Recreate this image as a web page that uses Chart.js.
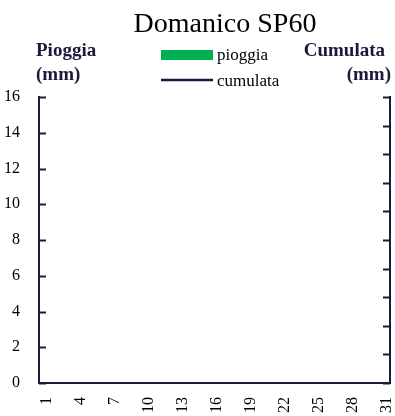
<!DOCTYPE html>
<html>
<head>
<meta charset="utf-8">
<script src="https://cdn.jsdelivr.net/npm/chart.js@4.4.1/dist/chart.umd.min.js"></script>
<style>
  html, body { margin: 0; padding: 0; background: #fff; }
  #wrap { width: 395px; height: 416px; position: relative; }
</style>
</head>
<body>
<div id="wrap"><canvas id="rainChart" width="395" height="416"></canvas></div>
<script>
// giorni del mese
const days = ['1','2','3','4','5','6','7','8','9','10','11','12','13','14','15','16',
  '17','18','19','20','21','22','23','24','25','26','27','28','29','30','31'];
// pioggia giornaliera (mm) - nessun dato registrato
const pioggia = [0,0,0,0,0,0,0,0,0,0,0,0,0,0,0,0,0,0,0,0,0,0,0,0,0,0,0,0,0,0,0];
// cumulata (mm)
const cumulata = [0,0,0,0,0,0,0,0,0,0,0,0,0,0,0,0,0,0,0,0,0,0,0,0,0,0,0,0,0,0,0];
const leftTicks = [0, 2, 4, 6, 8, 10, 12, 14, 16];
const rightRange = [0, 1];

const NAVY = '#1c1a3c';
const GREEN = '#00b050';
const SERIF = '"Liberation Serif", "Times New Roman", serif';

// scritte fuori dal grafico: titolo, titoli assi, legenda
const labelsPlugin = {
  id: 'labelsPlugin',
  afterDraw(chart) {
    const ctx = chart.ctx;
    ctx.save();
    ctx.fillStyle = '#000';
    ctx.textBaseline = 'alphabetic';
    ctx.font = '28px ' + SERIF;
    ctx.textAlign = 'center';
    ctx.fillText('Domanico SP60', 225, 32);

    ctx.fillStyle = NAVY;
    ctx.font = 'bold 19px ' + SERIF;
    ctx.textAlign = 'left';
    ctx.fillText('Pioggia', 36, 56);
    ctx.fillText('(mm)', 36, 80);
    ctx.textAlign = 'right';
    ctx.fillText('Cumulata', 385, 56);
    ctx.fillText('(mm)', 391, 80);

    // legenda
    ctx.fillStyle = GREEN;
    ctx.fillRect(161, 50, 52, 10);
    ctx.strokeStyle = NAVY;
    ctx.lineWidth = 2.5;
    ctx.beginPath();
    ctx.moveTo(161, 80);
    ctx.lineTo(213, 80);
    ctx.stroke();
    ctx.fillStyle = '#000';
    ctx.font = '17px ' + SERIF;
    ctx.textAlign = 'left';
    ctx.fillText('pioggia', 217, 60);
    ctx.fillText('cumulata', 217, 86);
    ctx.restore();
  }
};

// tacche verso l'interno come in Excel
const innerTicks = {
  id: 'innerTicks',
  afterDraw(chart) {
    const ctx = chart.ctx;
    const area = chart.chartArea;
    ctx.save();
    ctx.strokeStyle = NAVY;
    ctx.lineWidth = 2;
    const y = chart.scales.y;
    y.ticks.forEach(t => {
      const p = Math.round(y.getPixelForValue(t.value)) + 0.5;
      ctx.beginPath();
      ctx.moveTo(area.left, p);
      ctx.lineTo(area.left + 7, p);
      ctx.stroke();
    });
    const y2 = chart.scales.y2;
    y2.ticks.forEach(t => {
      const p = Math.round(y2.getPixelForValue(t.value)) + 0.5;
      ctx.beginPath();
      ctx.moveTo(area.right, p);
      ctx.lineTo(area.right - 7, p);
      ctx.stroke();
    });
    ctx.restore();
  }
};

new Chart(document.getElementById('rainChart'), {
  type: 'bar',
  data: {
    labels: days,
    datasets: [
      {
        label: 'pioggia',
        data: pioggia,
        backgroundColor: GREEN,
        yAxisID: 'y',
        order: 2
      },
      {
        type: 'line',
        label: 'cumulata',
        data: cumulata,
        borderColor: NAVY,
        borderWidth: 2,
        pointRadius: 0,
        yAxisID: 'y2',
        order: 1
      }
    ]
  },
  options: {
    responsive: false,
    animation: false,
    layout: { padding: { top: 97, left: 0, right: 0, bottom: 0 } },
    plugins: {
      legend: { display: false },
      title: { display: false },
      tooltip: { enabled: false }
    },
    scales: {
      x: {
        grid: { display: false, drawTicks: false },
        border: { display: true, color: NAVY, width: 2 },
        ticks: {
          autoSkip: false,
          minRotation: 90,
          maxRotation: 90,
          padding: 14,
          labelOffset: 2,
          color: '#000',
          font: { family: SERIF, size: 16 },
          callback: (v, i) => (i % 3 === 0 ? days[i] : '')
        },
        afterFit: s => { s.height = 33; s.paddingLeft = 0; s.paddingRight = 0; }
      },
      y: {
        position: 'left',
        min: leftTicks[0],
        max: leftTicks[leftTicks.length - 1],
        grid: { display: false, drawTicks: false },
        border: { display: true, color: NAVY, width: 2 },
        ticks: {
          stepSize: 2,
          padding: 19,
          color: '#000',
          font: { family: SERIF, size: 16 }
        },
        afterFit: s => { s.width = 39; s.paddingTop = 0; s.paddingBottom = 0; }
      },
      y2: {
        position: 'right',
        min: rightRange[0],
        max: rightRange[1],
        grid: { display: false, drawTicks: false },
        border: { display: true, color: NAVY, width: 2 },
        ticks: { stepSize: 0.1, display: false },
        afterFit: s => { s.width = 5; s.paddingTop = 0; s.paddingBottom = 0; }
      }
    }
  },
  plugins: [labelsPlugin, innerTicks]
});
</script>
</body>
</html>
